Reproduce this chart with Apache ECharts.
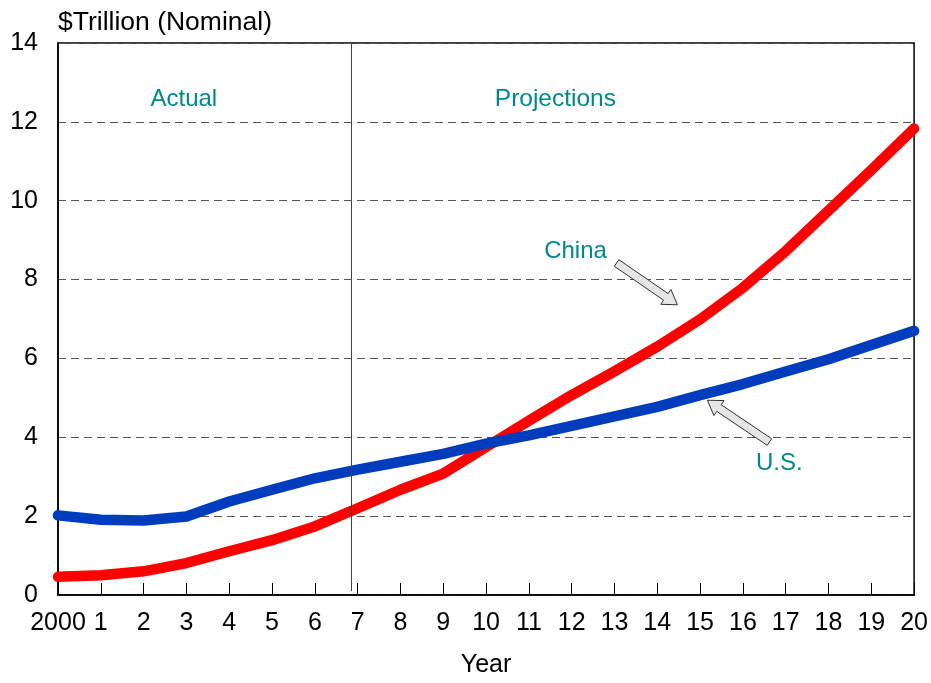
<!DOCTYPE html>
<html>
<head>
<meta charset="utf-8">
<script src="https://cdn.jsdelivr.net/npm/echarts@6/dist/echarts.min.js"></script>
<style>html,body{margin:0;padding:0;background:#fff}#c{width:931px;height:683px}</style>
</head>
<body>
<div id="c"></div>
<script>
const years = [0,1,2,3,4,5,6,7,8,9,10,11,12,13,14,15,16,17,18,19,20];
const xTickLabels = ['2000','1','2','3','4','5','6','7','8','9','10','11','12','13','14','15','16','17','18','19','20'];
const china = [0.46,0.50,0.60,0.81,1.11,1.39,1.74,2.20,2.67,3.08,3.75,4.42,5.07,5.67,6.30,6.99,7.79,8.72,9.75,10.78,11.83];
const us = [2.02,1.91,1.89,1.99,2.37,2.67,2.96,3.18,3.38,3.58,3.84,4.05,4.29,4.53,4.77,5.07,5.35,5.67,5.98,6.34,6.70];
const yTicks = [0,2,4,6,8,10,12,14];
const dividerX = 6.84;

const FONT = 'Liberation Sans, Arial, sans-serif';
const TEAL = '#00898A';

const chart = echarts.init(document.getElementById('c'), null, {renderer:'canvas'});
const option = {
  animation:false,
  backgroundColor:'#fff',
  grid:{left:58,right:16,top:43,bottom:84,show:true,borderColor:'#000',borderWidth:1.5,backgroundColor:'transparent'},
  xAxis:{
    type:'value',min:0,max:20,interval:1,
    name:'Year',nameLocation:'middle',nameGap:58,
    nameTextStyle:{fontFamily:FONT,fontSize:25,color:'#000'},
    axisLine:{show:true,lineStyle:{color:'#000',width:1.5}},
    axisTick:{show:true,inside:true,length:12,lineStyle:{color:'#000',width:1}},
    axisLabel:{fontFamily:FONT,fontSize:25,color:'#000',margin:16,formatter:(v)=>xTickLabels[years.indexOf(v)]},
    splitLine:{show:false}
  },
  yAxis:{
    type:'value',min:yTicks[0],max:yTicks[yTicks.length-1],interval:2,
    axisLine:{show:true,lineStyle:{color:'#000',width:1.5}},
    axisTick:{show:false},
    axisLabel:{fontFamily:FONT,fontSize:25,color:'#000',margin:20},
    splitLine:{show:true,lineStyle:{color:'#555',type:[8,5],width:1.2}}
  },
  series:[
    {name:'China',type:'line',data:years.map((y,i)=>[y,china[i]]),symbol:'none',
     lineStyle:{color:'#FF0000',width:10.5,cap:'round',join:'round'},z:3,
     markLine:{silent:true,symbol:'none',label:{show:false},
       lineStyle:{color:'#444',width:1,type:'solid'},
       data:[[{coord:[dividerX,0.1]},{coord:[dividerX,14]}]]}},
    {name:'U.S.',type:'line',data:years.map((y,i)=>[y,us[i]]),symbol:'none',
     lineStyle:{color:'#003DBE',width:10.5,cap:'round',join:'round'},z:4}
  ]
};
chart.setOption(option);

function px(p){return chart.convertToPixel({gridIndex:0},p);}
function blockArrow(tail,tip){
  const a=px(tail), b=px(tip);
  const dx=b[0]-a[0], dy=b[1]-a[1];
  const L=Math.sqrt(dx*dx+dy*dy);
  const ux=dx/L, uy=dy/L, nx=-uy, ny=ux;
  const sw=4, hw=9, hl=14;
  const hb=[b[0]-ux*hl,b[1]-uy*hl];
  const pts=[
    [a[0]+nx*sw,a[1]+ny*sw],[hb[0]+nx*sw,hb[1]+ny*sw],[hb[0]+nx*hw,hb[1]+ny*hw],
    [b[0],b[1]],
    [hb[0]-nx*hw,hb[1]-ny*hw],[hb[0]-nx*sw,hb[1]-ny*sw],[a[0]-nx*sw,a[1]-ny*sw]
  ];
  return {type:'polygon',shape:{points:pts},style:{fill:'#E6E6E6',stroke:'#333',lineWidth:1},z:10};
}
function label(text,pos,color,size){
  const p=px(pos);
  return {type:'text',x:p[0],y:p[1],style:{text:text,fill:color,font:size+'px '+FONT,textAlign:'center',textVerticalAlign:'middle'},z:10};
}
chart.setOption({graphic:[
  {type:'text',left:58,top:9,style:{text:'$Trillion (Nominal)',fill:'#000',font:'26.5px '+FONT},z:10},
  label('Actual',[2.94,12.58],TEAL,24),
  label('Projections',[11.62,12.58],TEAL,24.5),
  label('China',[12.09,8.72],TEAL,24),
  label('U.S.',[16.85,3.33],TEAL,24),
  blockArrow([13.05,8.42],[14.47,7.36]),
  blockArrow([16.62,3.88],[15.17,4.94])
]});
</script>
</body>
</html>
